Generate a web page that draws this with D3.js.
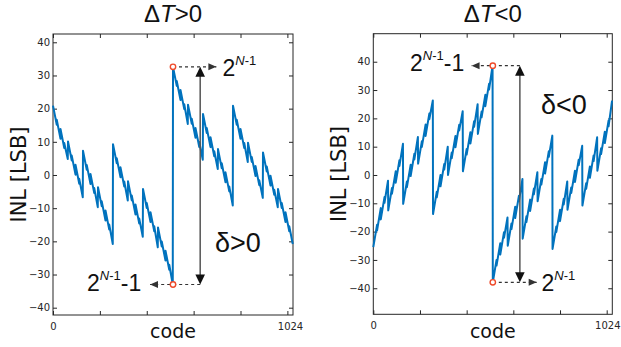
<!DOCTYPE html>
<html><head><meta charset="utf-8">
<script src="https://cdn.jsdelivr.net/npm/d3@7"></script>
<style>body{margin:0;background:#fff}svg{display:block}</style>
</head><body>
<svg id="chart" width="621" height="347"></svg>
<script>
// ---- data ----
const codeTicks = [0, 200, 400, 600, 800, 1000];
const codeLabels = [0, 1024];
const inlTicks = [-40, -30, -20, -10, 0, 10, 20, 30, 40];
const titles = ["ΔT>0", "ΔT<0"];
// INL vs code, ΔT>0 (vertices)
const inlPos = [
[0,20.9],[16,15.15],[16,16.65],[32,10.9],[32,13.9],[48,8.15],[48,9.65],[63,4.8],
[64,10.1],[80,4.35],[80,5.85],[96,0.1],[96,3.1],[112,-2.65],[112,-1.15],[127,-6.7],
[128,7.3],[144,1.55],[144,3.05],[160,-2.7],[160,0.3],[176,-5.45],[176,-3.95],[191,-9.7],
[192,-3.7],[208,-9.45],[208,-7.95],[224,-13.7],[224,-10.7],[240,-16.45],[240,-14.95],[255,-20.8],
[256,9.3],[272,3.55],[272,5.05],[288,-0.7],[288,2.3],[304,-3.45],[304,-1.95],[319,-7.7],
[320,-1.9],[336,-7.65],[336,-6.15],[352,-11.9],[352,-8.9],[368,-14.65],[368,-13.15],[383,-18.6],
[384,-4.2],[400,-9.95],[400,-8.45],[416,-14.2],[416,-11.2],[432,-16.95],[432,-15.45],[447,-21.8],
[448,-15.8],[464,-21.55],[464,-20.05],[480,-25.8],[480,-22.8],[496,-28.55],[496,-27.05],[511,-33],
[512,32.6],[528,26.85],[528,28.35],[544,22.6],[544,25.6],[560,19.85],[560,21.35],[575,15.4],
[576,21.2],[592,15.45],[592,16.95],[608,11.2],[608,14.2],[624,8.45],[624,9.95],[639,4.6],
[640,18.4],[656,12.65],[656,14.15],[672,8.4],[672,11.4],[688,5.65],[688,7.15],[703,1.8],
[704,7.8],[720,2.05],[720,3.55],[736,-2.2],[736,0.8],[752,-4.95],[752,-3.45],[767,-9.2],
[768,20.9],[784,15.15],[784,16.65],[800,10.9],[800,13.9],[816,8.15],[816,9.65],[831,3.9],
[832,9.7],[848,3.95],[848,5.45],[864,-0.3],[864,2.7],[880,-3.05],[880,-1.55],[895,-6.9],
[896,6.8],[912,1.05],[912,2.55],[928,-3.2],[928,-0.2],[944,-5.95],[944,-4.45],[959,-9.7],
[960,-4.2],[976,-9.95],[976,-8.45],[992,-14.2],[992,-11.2],[1008,-16.95],[1008,-15.45],[1023,-20.8]
];
// INL vs code, ΔT<0
const inlNeg = [
[0,-25.5],[16,-17.6],[16,-19.6],[32,-11.7],[32,-15.7],[48,-7.8],[48,-9.8],[63,-2],
[64,-12.5],[80,-4.6],[80,-6.6],[96,1.3],[96,-2.7],[112,5.2],[112,3.2],[127,11],
[128,-10.2],[144,-2.3],[144,-4.3],[160,3.6],[160,-0.4],[176,7.5],[176,5.5],[191,13.4],
[192,4],[208,11.9],[208,9.9],[224,17.8],[224,13.8],[240,21.7],[240,19.7],[255,26.3],
[256,-13.8],[272,-5.9],[272,-7.9],[288,0],[288,-4],[304,3.9],[304,1.9],[319,10],
[320,0],[336,7.9],[336,5.9],[352,13.8],[352,9.8],[368,17.7],[368,15.7],[383,22.5],
[384,1.3],[400,9.2],[400,7.2],[416,15.1],[416,11.1],[432,19],[432,17],[447,25],
[448,14.5],[464,22.4],[464,20.4],[480,28.3],[480,24.3],[496,32.2],[496,30.2],[511,38.6],
[512,-37.9],[528,-30],[528,-32],[544,-24.1],[544,-28.1],[560,-20.2],[560,-22.2],[575,-15],
[576,-25],[592,-17.1],[592,-19.1],[608,-11.2],[608,-15.2],[624,-7.3],[624,-9.3],[639,-1.4],
[640,-22.5],[656,-14.6],[656,-16.6],[672,-8.7],[672,-12.7],[688,-4.8],[688,-6.8],[703,1],
[704,-9.3],[720,-1.4],[720,-3.4],[736,4.5],[736,0.5],[752,8.4],[752,6.4],[767,13.9],
[768,-26.1],[784,-18.2],[784,-20.2],[800,-12.3],[800,-16.3],[816,-8.4],[816,-10.4],[831,-2.3],
[832,-12.3],[848,-4.4],[848,-6.4],[864,1.5],[864,-2.5],[880,5.4],[880,3.4],[895,10.3],
[896,-10.8],[912,-2.9],[912,-4.9],[928,3],[928,-1],[944,6.9],[944,4.9],[959,13.3],
[960,1.5],[976,9.4],[976,7.4],[992,15.3],[992,11.3],[1008,19.2],[1008,17.2],[1023,26.3]
];

// ---- drawing ----
const svg = d3.select("#chart");
const FONT_AX = "'DejaVu Sans', sans-serif";
const FONT_TX = "'Liberation Sans', Arial, sans-serif";

function arrowHead(g, x, y, dir, len, half, color) {
  let pts;
  if (dir === 'right') pts = [[x,y],[x-len,y-half],[x-len,y+half]];
  if (dir === 'left') pts = [[x,y],[x+len,y-half],[x+len,y+half]];
  if (dir === 'up') pts = [[x,y],[x-half,y+len],[x+half,y+len]];
  if (dir === 'down') pts = [[x,y],[x-half,y-len],[x+half,y-len]];
  g.append("path").attr("d", d3.line()(pts) + "Z").attr("fill", color);
}

function powerText(g, x, y, withMinusOne) {
  const t = g.append("text").attr("x", x).attr("y", y)
    .attr("font-family", FONT_TX).attr("font-size", 23).attr("fill", "#111");
  t.append("tspan").text("2");
  t.append("tspan").attr("font-size", 13).attr("dy", -11).attr("font-style", "italic").text("N");
  t.append("tspan").attr("font-size", 13).text("-1");
  if (withMinusOne) t.append("tspan").attr("dy", 11).text("-1");
}

function panel(cfg) {
  const x = d3.scaleLinear().domain([0, 1024]).range([cfg.left, cfg.right]);
  const y = d3.scaleLinear().domain(cfg.yDomain).range([cfg.bottom, cfg.top]);
  const g = svg.append("g");
  const axColor = "#262626";

  const styleAx = sel => {
    sel.select(".domain").remove();
    sel.selectAll("line").attr("stroke", axColor);
    sel.selectAll("text").attr("font-family", FONT_AX).attr("font-size", 10).attr("fill", "#262626");
  };
  g.append("g").attr("transform", `translate(${cfg.left},0)`)
    .call(d3.axisLeft(y).tickValues(inlTicks).tickSize(-4).tickPadding(3)).call(styleAx);
  g.append("g").attr("transform", `translate(${cfg.right},0)`)
    .call(d3.axisRight(y).tickValues(inlTicks).tickSize(-4).tickFormat("")).call(styleAx);
  g.append("g").attr("transform", `translate(0,${cfg.top})`)
    .call(d3.axisTop(x).tickValues(codeTicks).tickSize(-4).tickFormat("")).call(styleAx);
  g.append("g").attr("transform", `translate(0,${cfg.bottom})`)
    .call(d3.axisBottom(x).tickValues(codeTicks).tickSize(-4).tickFormat("")).call(styleAx);
  const lab = g.append("g").attr("transform", `translate(0,${cfg.bottom})`)
    .call(d3.axisBottom(x).tickValues(codeLabels).tickSize(0).tickPadding(8).tickFormat(d3.format("d")))
    .call(styleAx);
  lab.selectAll(".tick").filter(d => d === 1024).select("text").attr("dx", cfg.lastDx);

  g.append("rect").attr("x", cfg.left).attr("y", cfg.top)
    .attr("width", cfg.right - cfg.left).attr("height", cfg.bottom - cfg.top)
    .attr("fill", "none").attr("stroke", axColor).attr("stroke-width", 1);

  g.append("path").datum(cfg.data)
    .attr("d", d3.line().x(d => x(d[0])).y(d => y(d[1])))
    .attr("fill", "none").attr("stroke", "#0072BD").attr("stroke-width", 2)
    .attr("stroke-linejoin", "round");

  const ti = g.append("text").attr("x", (cfg.left + cfg.right) / 2).attr("y", 22)
    .attr("text-anchor", "middle").attr("font-family", FONT_TX).attr("font-size", 24).attr("fill", "#111");
  ti.append("tspan").text("Δ");
  ti.append("tspan").attr("font-style", "italic").text("T");
  ti.append("tspan").text(cfg.title.slice(2));

  g.append("text").attr("transform", `translate(${cfg.left - 27},${(cfg.top + cfg.bottom) / 2}) rotate(-90)`)
    .attr("text-anchor", "middle").attr("font-family", FONT_AX).attr("font-size", 21).attr("fill", "#111")
    .text("INL [LSB]");
  g.append("text").attr("x", (cfg.left + cfg.right) / 2).attr("y", 338)
    .attr("text-anchor", "middle").attr("font-family", FONT_AX).attr("font-size", 19).attr("fill", "#111")
    .text("code");

  const a = cfg.ann;
  const pHi = cfg.data.find(d => d[0] === a.hiCode);
  const pLo = cfg.data.find(d => d[0] === a.loCode);
  const xm = x(512), yHi = y(pHi[1]), yLo = y(pLo[1]);
  const xv = x(a.vCode);
  const dash = "3,3", dc = "#333";
  g.append("line").attr("x1", x(a.topFrom)).attr("x2", x(a.topTo)).attr("y1", yHi).attr("y2", yHi)
    .attr("stroke", dc).attr("stroke-width", 1.2).attr("stroke-dasharray", dash);
  arrowHead(g, x(a.topTo), yHi, a.topTo > a.topFrom ? 'right' : 'left', 8, 3.5, dc);
  g.append("line").attr("x1", x(a.botFrom)).attr("x2", x(a.botTo)).attr("y1", yLo).attr("y2", yLo)
    .attr("stroke", dc).attr("stroke-width", 1.2).attr("stroke-dasharray", dash);
  arrowHead(g, x(a.botTo), yLo, a.botTo > a.botFrom ? 'right' : 'left', 8, 3.5, dc);
  g.append("line").attr("x1", xv).attr("x2", xv).attr("y1", yHi + 9).attr("y2", yLo - 9)
    .attr("stroke", "#555").attr("stroke-width", 1.5);
  arrowHead(g, xv, yHi, 'up', 10, 4.8, "#111");
  arrowHead(g, xv, yLo, 'down', 10, 4.8, "#111");
  [[xm, yHi], [xm, yLo]].forEach(p => g.append("circle").attr("cx", p[0]).attr("cy", p[1]).attr("r", 2.7)
    .attr("fill", "#fff").attr("stroke", "#ee4a2a").attr("stroke-width", 1.4));
  powerText(g, a.topTextX, yHi + a.topTextDy, a.topMinusOne);
  powerText(g, a.botTextX, yLo + a.botTextDy, a.botMinusOne);
  g.append("text").attr("x", a.deltaX).attr("y", a.deltaY).attr("font-family", FONT_TX)
    .attr("font-size", 27).attr("fill", "#111").text(a.deltaText);
}

panel({
  left: 53, right: 293, top: 34, bottom: 315, yDomain: [-42.2, 42.5],
  data: inlPos, title: titles[0], lastDx: -3,
  ann: { hiCode: 512, loCode: 511, vCode: 628,
         topFrom: 512, topTo: 697, botFrom: 628, botTo: 414,
         topTextX: 222.5, topTextDy: 9.5, topMinusOne: false,
         botTextX: 87, botTextDy: 6.5, botMinusOne: true,
         deltaX: 215, deltaY: 252, deltaText: "δ>0" }
});
panel({
  left: 373.3, right: 612.3, top: 33.7, bottom: 314.3, yDomain: [-49.2, 49.9],
  data: inlNeg, title: titles[1], lastDx: -5,
  ann: { hiCode: 511, loCode: 512, vCode: 628,
         topFrom: 628, topTo: 421, botFrom: 512, botTo: 700,
         topTextX: 410, topTextDy: 5, topMinusOne: true,
         botTextX: 541.5, botTextDy: 8.5, botMinusOne: false,
         deltaX: 541, deltaY: 114, deltaText: "δ<0" }
});
</script>
</body></html>
